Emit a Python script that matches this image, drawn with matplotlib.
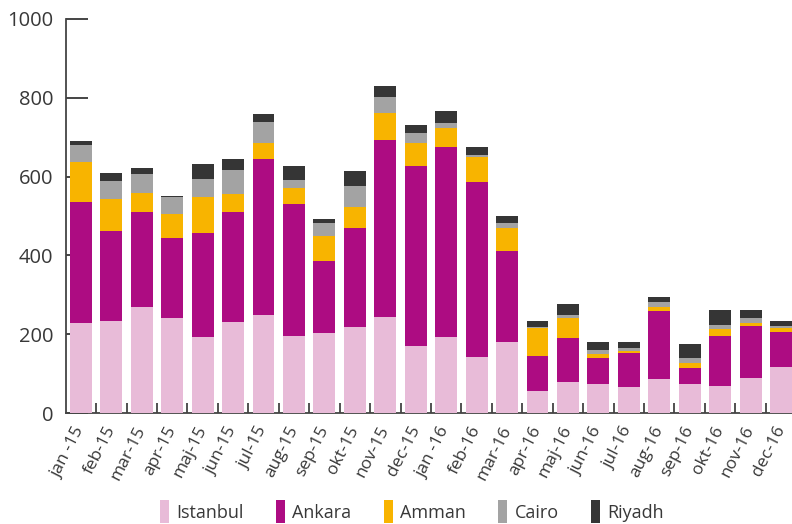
import numpy as np
import matplotlib.pyplot as plt

plt.rcParams['font.family'] = ['Open Sans', 'DejaVu Sans']

months = ['jan -15', 'feb-15', 'mar-15', 'apr-15', 'maj-15', 'jun-15', 'jul-15',
          'aug-15', 'sep-15', 'okt-15', 'nov-15', 'dec-15', 'jan -16', 'feb-16',
          'mar-16', 'apr-16', 'maj-16', 'jun-16', 'jul-16', 'aug-16', 'sep-16',
          'okt-16', 'nov-16', 'dec-16']

istanbul = [229, 234, 268, 242, 193, 230, 248, 196, 204, 219, 244, 171,
            192, 141, 181, 56, 79, 73, 65, 86, 73, 68, 88, 116]
ankara = [307, 228, 242, 203, 264, 279, 397, 334, 181, 251, 448, 455,
          483, 445, 230, 88, 112, 66, 88, 173, 40, 127, 132, 90]
amman = [101, 82, 49, 61, 90, 46, 41, 42, 64, 53, 70, 60,
         48, 64, 59, 71, 49, 12, 5, 10, 13, 17, 9, 9]
cairo = [42, 46, 48, 41, 48, 61, 52, 20, 32, 52, 40, 25,
         13, 6, 11, 4, 10, 9, 6, 13, 13, 11, 13, 5]
riyadh = [11, 20, 15, 5, 38, 29, 21, 36, 11, 39, 29, 21,
          30, 19, 19, 15, 26, 21, 17, 13, 36, 38, 19, 13]

series = [('Istanbul', istanbul, '#e8bbd8'),
          ('Ankara', ankara, '#ad0c82'),
          ('Amman', amman, '#f8b400'),
          ('Cairo', cairo, '#a3a3a3'),
          ('Riyadh', riyadh, '#353535')]

fig = plt.figure(figsize=(7.92, 5.24), dpi=100)
ax = fig.add_axes([0.0833, 0.2118, 0.9167, 0.752])

x = np.arange(len(months))
bottom = np.zeros(len(months))
for name, vals, col in series:
    ax.bar(x, vals, width=0.72, bottom=bottom, color=col, label=name, zorder=3)
    bottom += np.array(vals)

ax.set_xlim(-0.49, 23.36)
ax.set_ylim(0, 1000)

for s in ['top', 'right']:
    ax.spines[s].set_visible(False)
for s in ['left', 'bottom']:
    ax.spines[s].set_color('#444444')
    ax.spines[s].set_linewidth(1.3)

ax.set_yticks([0, 200, 400, 600, 800, 1000])
ax.tick_params(axis='y', direction='in', length=16, width=1.4, color='#444444',
               labelsize=14.5, labelcolor='#383838', pad=9)

ax.set_xticks(x)
ax.set_xticklabels(months, rotation=63, ha='right', va='center',
                   rotation_mode='anchor')
ax.tick_params(axis='x', which='major', length=0, labelsize=12.5,
               labelcolor='#383838', pad=10)
ax.set_xticks(np.arange(0.5, 23, 1), minor=True)
ax.tick_params(axis='x', which='minor', direction='in', length=7, width=1.2,
               color='#333333')

fig.legend(loc='lower center', bbox_to_anchor=(0.52, -0.03), ncol=5,
           frameon=False, fontsize=13, handlelength=0.5, handleheight=1.6,
           handletextpad=0.4, columnspacing=1.8, labelcolor='#383838')

fig.savefig('out.png', dpi=100)
